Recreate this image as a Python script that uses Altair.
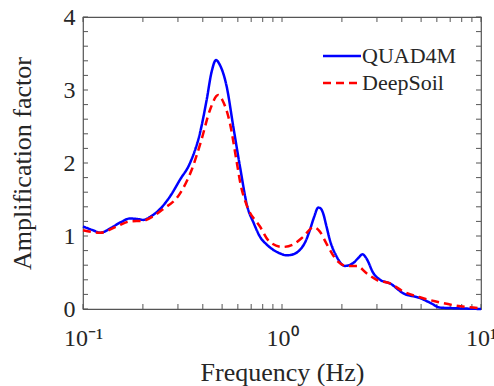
import altair as alt
import pandas as pd

freq_quad = [0.1, 0.112, 0.122, 0.14, 0.155, 0.172, 0.19, 0.201, 0.217, 0.244, 0.275, 0.307, 0.345,
             0.387, 0.418, 0.443, 0.466, 0.488, 0.527, 0.569, 0.615, 0.67, 0.72, 0.775, 0.84, 0.904,
             0.98, 1.056, 1.14, 1.23, 1.31, 1.38, 1.45, 1.52, 1.56, 1.61, 1.67, 1.74, 1.88, 2.07,
             2.28, 2.42, 2.54, 2.66, 2.88, 3.11, 3.49, 4.07, 4.94, 5.6, 6.22, 7.55, 10.0]
amp_quad = [1.13, 1.08, 1.045, 1.12, 1.19, 1.24, 1.23, 1.22, 1.26, 1.37, 1.55, 1.77, 2.0,
            2.41, 2.86, 3.25, 3.41, 3.34, 3.05, 2.50, 1.95, 1.40, 1.18, 0.99, 0.88, 0.81,
            0.76, 0.735, 0.75, 0.81, 0.92, 1.08, 1.26, 1.39, 1.38, 1.31, 1.14, 0.945, 0.72, 0.59,
            0.63, 0.70, 0.75, 0.69, 0.49, 0.40, 0.35, 0.215, 0.15, 0.08, 0.02, 0.01, 0.0]

freq_deep = [0.1, 0.122, 0.15, 0.172, 0.201, 0.225, 0.25, 0.307, 0.351, 0.394, 0.435, 0.478, 0.502,
             0.548, 0.59, 0.62, 0.665, 0.775, 0.867, 1.01, 1.13, 1.28, 1.44, 1.55, 1.67, 1.88,
             2.11, 2.38, 2.66, 2.99, 3.49, 4.07, 4.94, 6.22, 7.55, 10.0]
amp_deep = [1.08, 1.045, 1.14, 1.20, 1.21, 1.27, 1.36, 1.58, 1.90, 2.32, 2.73, 2.93, 2.86,
            2.54, 2.04, 1.70, 1.42, 1.13, 0.92, 0.85, 0.88, 0.99, 1.12, 1.06, 0.90, 0.67,
            0.59, 0.59, 0.49, 0.40, 0.35, 0.24, 0.16, 0.09, 0.045, 0.01]

series_names = ["QUAD4M", "DeepSoil"]
series_colors = ["#0000FF", "#FF0000"]
x_minor_ticks = [0.1, 0.2, 0.3, 0.4, 0.5, 0.6, 0.7, 0.8, 0.9, 1, 2, 3, 4, 5, 6, 7, 8, 9, 10]
y_minor_ticks = [round(i * 0.2, 1) for i in range(21)]

W, H = 398, 292
FONT = "Liberation Serif"
TXT = "#262626"

df = pd.concat([
    pd.DataFrame({"f": freq_quad, "a": amp_quad, "s": "QUAD4M", "o": range(len(freq_quad))}),
    pd.DataFrame({"f": freq_deep, "a": amp_deep, "s": "DeepSoil", "o": range(len(freq_deep))}),
])

xscale = alt.Scale(type="log", domain=[0.1, 10])
yscale = alt.Scale(domain=[0, 4])

lines = alt.Chart(df).mark_line(strokeWidth=2.5, interpolate="monotone").encode(
    x=alt.X("f:Q", scale=xscale, title="Frequency (Hz)",
            axis=alt.Axis(values=[0.1, 1, 10], tickSize=0, domain=False, grid=False,
                          labelExpr="datum.value < 0.5 ? '10⁻¹' : (datum.value < 5 ? '10⁰' : '10¹')",
                          labelFlush=False, labelOverlap=False, labelPadding=17,
                          labelFontSize=24, titleFontSize=26, titleFontWeight="normal",
                          titleY=71, titleBaseline="alphabetic")),
    y=alt.Y("a:Q", scale=yscale, title="Amplification factor",
            axis=alt.Axis(values=[0, 1, 2, 3, 4], format="d", tickSize=0, domain=False, grid=False,
                          labelPadding=8, labelFontSize=24, titleFontSize=26,
                          titleFontWeight="normal", titleX=-53, titleY=H / 2,
                          titleBaseline="alphabetic", titleAngle=-90)),
    color=alt.Color("s:N", scale=alt.Scale(domain=series_names, range=series_colors),
                    title=None,
                    legend=alt.Legend(orient="none", legendX=248, legendY=28,
                                      symbolType="M-2,0H2", symbolSize=361,
                                      symbolStrokeWidth=2.5, labelFontSize=22,
                                      labelFont=FONT, labelColor=TXT, labelOffset=9,
                                      rowPadding=5, padding=0)),
    strokeDash=alt.StrokeDash("s:N", scale=alt.Scale(domain=series_names, range=[[1, 0], [8, 5]]),
                              title=None),
    order="o:Q",
)

xt = pd.DataFrame({"f": x_minor_ticks})
yt = pd.DataFrame({"a": y_minor_ticks})

xt_bot = alt.Chart(xt).mark_rule(color="#555555", strokeWidth=1).encode(
    x=alt.X("f:Q", scale=xscale), y=alt.value(H), y2=alt.value(H - 5))
xt_top = alt.Chart(xt).mark_rule(color="#555555", strokeWidth=1).encode(
    x=alt.X("f:Q", scale=xscale), y=alt.value(0), y2=alt.value(5))
yt_left = alt.Chart(yt).mark_rule(color="#555555", strokeWidth=1).encode(
    y=alt.Y("a:Q", scale=yscale), x=alt.value(0), x2=alt.value(5))
yt_right = alt.Chart(yt).mark_rule(color="#555555", strokeWidth=1).encode(
    y=alt.Y("a:Q", scale=yscale), x=alt.value(W), x2=alt.value(W - 5))

chart = alt.layer(xt_bot, xt_top, yt_left, yt_right, lines).properties(
    width=W, height=H,
    autosize=alt.AutoSizeParams(type="none"),
    padding={"left": 83, "top": 17, "right": 13, "bottom": 77},
    background="white",
).configure(font=FONT).configure_axis(
    labelFont=FONT, titleFont=FONT, labelColor=TXT, titleColor=TXT
).configure_view(stroke="#555555", strokeWidth=1.2)

chart.save("out.html", embed_options={"renderer": "svg", "actions": False})
